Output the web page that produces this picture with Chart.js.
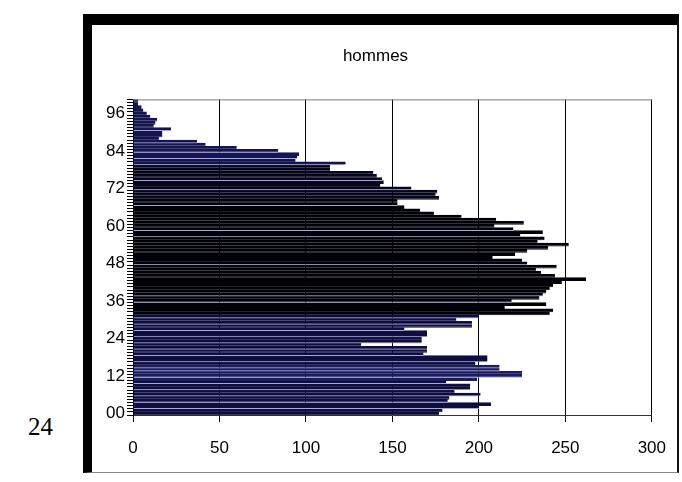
<!DOCTYPE html>
<html>
<head>
<meta charset="utf-8">
<script src="https://cdn.jsdelivr.net/npm/chart.js@4"></script>
<style>
  html, body { margin: 0; padding: 0; background: #fff; width: 682px; height: 482px; overflow: hidden; }
  #frame { position: absolute; left: 83px; top: 14px; width: 596px; height: 459px;
           border-left: 9px solid #000; border-top: 11px solid #000; border-right: 2px solid #111; border-bottom: 1px solid #888; box-sizing: border-box; }
  #pageno { position: absolute; left: 28px; top: 413px; font-family: 'Liberation Serif', 'DejaVu Serif', serif; font-size: 25px; color: #000; }
  #wrap { position: absolute; left: 0; top: 0; width: 682px; height: 482px; }
</style>
</head>
<body>
<div id="frame"></div>
<div id="pageno">24</div>
<div id="wrap"><canvas id="c" width="682" height="482"></canvas></div>
<script>
// Ages (categories), bottom to top
const ages = ['00','01','02','03','04','05','06','07','08','09',
  '10','11','12','13','14','15','16','17','18','19',
  '20','21','22','23','24','25','26','27','28','29',
  '30','31','32','33','34','35','36','37','38','39',
  '40','41','42','43','44','45','46','47','48','49',
  '50','51','52','53','54','55','56','57','58','59',
  '60','61','62','63','64','65','66','67','68','69',
  '70','71','72','73','74','75','76','77','78','79',
  '80','81','82','83','84','85','86','87','88','89',
  '90','91','92','93','94','95','96','97','98','99','100'];

// Men ("hommes") count per age
const hommes = [177,179,200,207,182,183,201,186,195,195,
  181,199,225,225,212,212,198,205,205,168,
  170,170,132,167,167,170,170,157,196,196,
  187,200,241,243,215,239,219,235,237,239,
  241,243,248,262,244,236,233,245,228,225,
  208,221,228,240,252,234,238,224,237,220,
  209,226,210,190,174,166,157,153,153,177,
  175,176,161,143,145,144,141,139,114,114,
  123,94,95,96,84,60,42,37,15,17,
  17,22,12,13,14,10,8,6,5,3,3];

// Tick labels shown on the age axis
const ageTicks = ['00','12','24','36','48','60','72','84','96'];
// Value axis tick values
const valueTicks = [0,50,100,150,200,250,300];

const title = 'hommes';

// styling: bars with a thin light separator on their lower edge
const sepAges = ['02','04','06','08','10','12','14','15','17','19','21','23','25','27','29','31',
  '36','38','48','57','59','67','72','75','80','82','84','87','91'];

const barColors = ages.map(a => {
  const n = parseInt(a, 10);
  if (n <= 15 && n >= 11) return '#1c1c62';
  if (n < 32) return '#0d0d40';
  if (n < 69) return '#000008';
  if (n < 80) return '#05051c';
  return '#141450';
});
const borderColors = ages.map((a, i) => sepAges.includes(a) ? '#a8a8dc' : barColors[i]);

const plotBorder = {
  id: 'plotBorder',
  afterDraw(chart) {
    const {ctx, chartArea: a} = chart;
    ctx.save();
    ctx.strokeStyle = '#7a7a7a';
    ctx.lineWidth = 1;
    ctx.beginPath();
    ctx.moveTo(a.left, a.top + 0.5);
    ctx.lineTo(a.right, a.top + 0.5);
    ctx.stroke();
    ctx.restore();
  }
};

const font = "'Liberation Sans', Arial, sans-serif";

new Chart(document.getElementById('c'), {
  type: 'bar',
  data: {
    labels: ages,
    datasets: [{
      data: hommes,
      backgroundColor: barColors,
      borderColor: borderColors,
      borderWidth: {top: 0, right: 0, bottom: 1, left: 0},
      borderSkipped: false,
      barPercentage: 1.2,
      categoryPercentage: 1
    }]
  },
  options: {
    indexAxis: 'y',
    responsive: false,
    animation: false,
    devicePixelRatio: 1,
    layout: { padding: { left: 88, right: 19, top: 40, bottom: 22 } },
    plugins: {
      legend: { display: false },
      tooltip: { enabled: false },
      title: {
        display: true,
        text: title,
        color: '#000',
        font: { family: font, size: 17, weight: 'normal' },
        padding: { top: 6, bottom: 33 }
      }
    },
    scales: {
      x: {
        type: 'linear',
        min: 0, max: 300,
        afterBuildTicks(s) { s.ticks = valueTicks.map(v => ({ value: v })); },
        afterFit(s) { s.height = 45; },
        grid: { color: '#000', lineWidth: 1, tickLength: 7, drawTicks: true },
        border: { color: '#333', width: 1 },
        ticks: { color: '#000', padding: 16, font: { family: font, size: 17 } }
      },
      y: {
        type: 'category',
        reverse: true,
        afterFit(s) { s.width = 45; },
        grid: { drawOnChartArea: false, color: '#000', tickLength: 6 },
        border: { color: '#000', width: 1 },
        ticks: {
          autoSkip: false,
          color: '#000',
          padding: 2,
          font: { family: font, size: 17 },
          callback(v, i) { const l = ages[i]; return ageTicks.includes(l) ? l : ''; }
        }
      }
    }
  },
  plugins: [plotBorder]
});
</script>
</body>
</html>
